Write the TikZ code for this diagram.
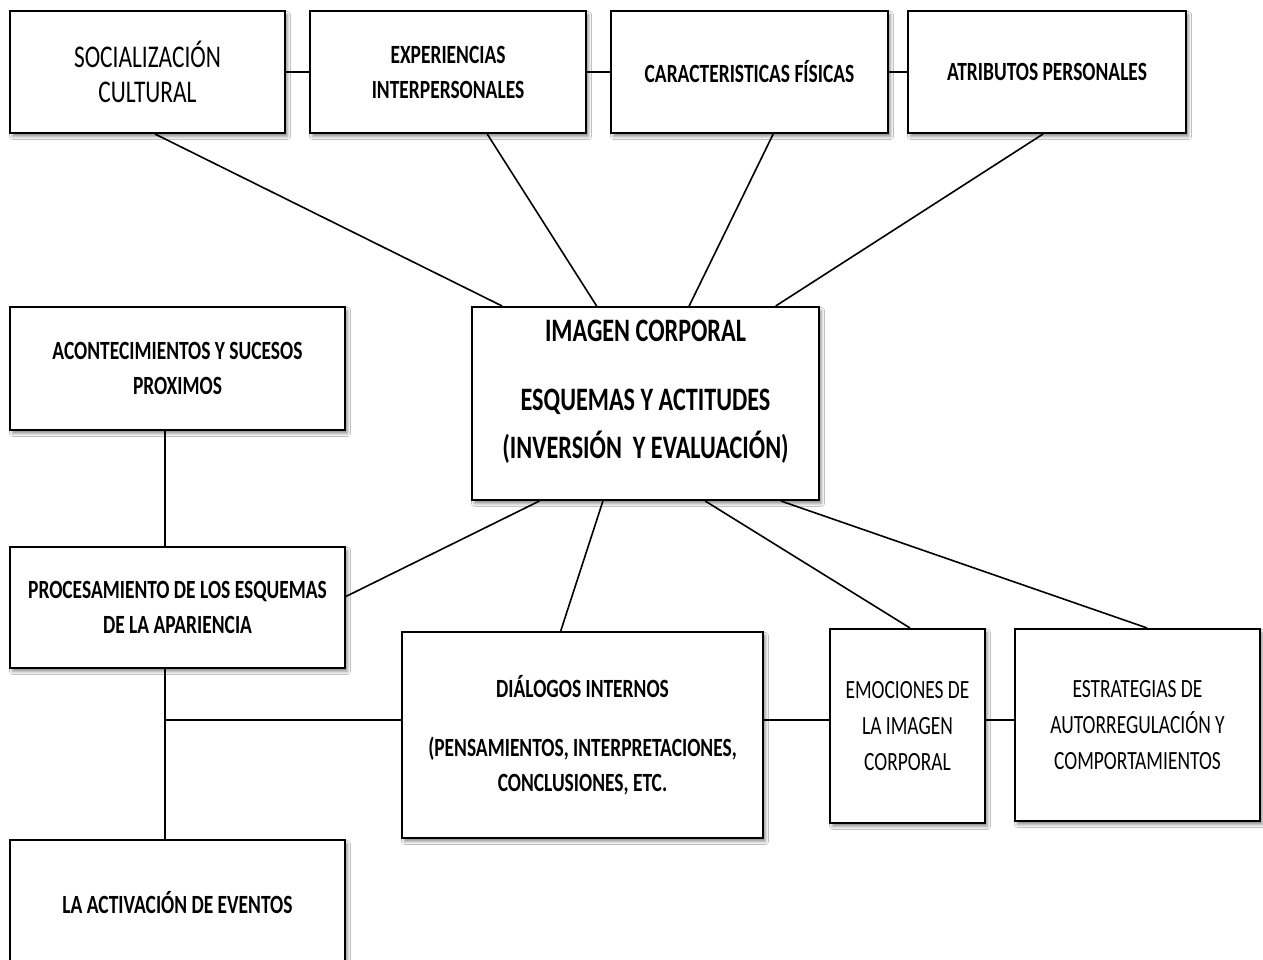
\documentclass[tikz,border=0pt]{standalone}
\usepackage{fontspec}
\setmainfont{Carlito}
\newfontfamily\condfont[FakeStretch=0.74]{Carlito}
\usetikzlibrary{calc,shadows.blur}
\tikzset{
  x=1pt, y=-1pt,
  box/.style={draw=black, line width=2pt, fill=white, inner sep=0pt, align=center,
    blur shadow={shadow xshift=2.5pt, shadow yshift=-3.5pt, shadow blur radius=3pt, shadow opacity=45}},
  plainbox/.style={draw=none, fill=none, inner sep=0pt, align=center},
  boldtxt/.style={font=\condfont\bfseries\fontsize{26.3}{35}\selectfont},
  regtxt/.style={font=\condfont\fontsize{26.3}{36}\selectfont},
  bigreg/.style={font=\condfont\fontsize{31.6}{35}\selectfont},
  titletxt/.style={font=\condfont\bfseries\fontsize{32.7}{48}\selectfont},
  link/.style={draw=black, line width=1.6pt},
}
\begin{document}
\begin{tikzpicture}
\useasboundingbox (0,0) rectangle (1263,960);
\fill[white] (0,0) rectangle (1263,960);

% top row
\node[box, bigreg,  minimum width=275, minimum height=122] (soc) at (147.5,72) {SOCIALIZACIÓN\\CULTURAL};
\node[box, boldtxt, minimum width=276, minimum height=122] (exp) at (448,72) {EXPERIENCIAS\\INTERPERSONALES};
\node[box, boldtxt, minimum width=277, minimum height=122] (car) at (749.5,72) {CARACTERISTICAS FÍSICAS};
\node[box, boldtxt, minimum width=278, minimum height=122] (atr) at (1047,72) {ATRIBUTOS PERSONALES};

% central box
\node[box, minimum width=347, minimum height=193] (img) at (645.5,403.5) {};
\node[plainbox, titletxt] (imgtxt) at ($(img.center)+(0,-12)$)
  {IMAGEN CORPORAL\\[21pt]ESQUEMAS Y ACTITUDES\\(INVERSIÓN~ Y EVALUACIÓN)};

% left column
\node[box, boldtxt, minimum width=335, minimum height=123] (aco) at (177.5,368.5) {ACONTECIMIENTOS Y SUCESOS\\PROXIMOS};
\node[box, boldtxt, minimum width=335, minimum height=121] (pro) at (177.5,607.5) {PROCESAMIENTO DE LOS ESQUEMAS\\DE LA APARIENCIA};
\node[box, boldtxt, minimum width=335, minimum height=126] (act) at (177.5,903) {LA ACTIVACIÓN DE EVENTOS};

% bottom row
\node[box, boldtxt, minimum width=361, minimum height=206] (dia) at (582.5,735) {DIÁLOGOS INTERNOS\\[24pt](PENSAMIENTOS, INTERPRETACIONES,\\CONCLUSIONES, ETC.};
\node[box, regtxt, minimum width=155, minimum height=194] (emo) at (907.5,726) {EMOCIONES DE\\LA IMAGEN\\CORPORAL};
\node[box, regtxt, minimum width=245, minimum height=192] (est) at (1137.5,725) {ESTRATEGIAS DE\\AUTORREGULACIÓN Y\\COMPORTAMIENTOS};

% links along the top row
\draw[link] (soc.east) -- (exp.west);
\draw[link] (exp.east) -- (car.west);
\draw[link] (car.east) -- (atr.west);

% top row to the central box
\draw[link] ($(soc.south west)!0.527!(soc.south east)$) -- ($(img.north west)!0.089!(img.north east)$);
\draw[link] ($(exp.south west)!0.641!(exp.south east)$) -- ($(img.north west)!0.360!(img.north east)$);
\draw[link] ($(car.south west)!0.585!(car.south east)$) -- ($(img.north west)!0.625!(img.north east)$);
\draw[link] ($(atr.south west)!0.486!(atr.south east)$) -- ($(img.north west)!0.873!(img.north east)$);

% central box to the lower boxes
\draw[link] ($(img.south west)!0.196!(img.south east)$) -- ($(pro.north east)!0.41!(pro.south east)$);
\draw[link] ($(img.south west)!0.378!(img.south east)$) -- ($(dia.north west)!0.44!(dia.north east)$);
\draw[link] ($(img.south west)!0.671!(img.south east)$) -- ($(emo.north west)!0.516!(emo.north east)$);
\draw[link] ($(img.south west)!0.888!(img.south east)$) -- ($(est.north west)!0.539!(est.north east)$);

% left column spine, a little left of the box centres
\coordinate (acos) at ($(aco.south west)!0.463!(aco.south east)$);
\draw[link] (acos) -- (acos |- pro.north);
\coordinate (pros) at ($(pro.south west)!0.463!(pro.south east)$);
\draw[link] (pros) -- (pros |- act.north);
\coordinate (dl) at ($(dia.north west)!0.427!(dia.south west)$);
\coordinate (dr) at ($(dia.north east)!0.427!(dia.south east)$);
\draw[link] (dl) -- (dl -| pros);
\draw[link] (dr) -- (dr -| emo.west);
\draw[link] (dr -| emo.east) -- (dr -| est.west);
\end{tikzpicture}
\end{document}
